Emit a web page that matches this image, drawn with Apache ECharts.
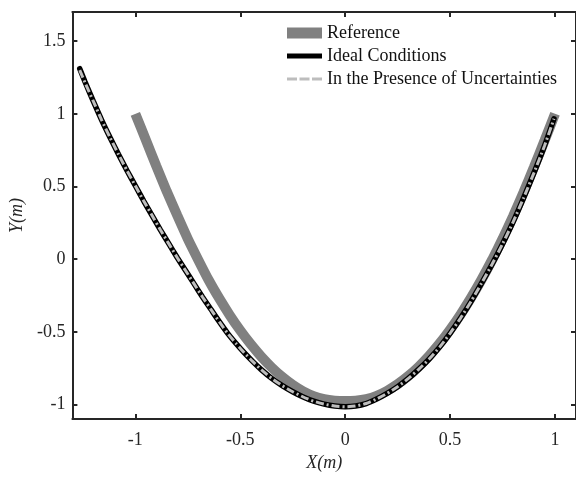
<!DOCTYPE html>
<html>
<head>
<meta charset="utf-8">
<script src="https://cdn.jsdelivr.net/npm/echarts@6/dist/echarts.min.js"></script>
<style>
html,body{margin:0;padding:0;background:#fff;}
#chart{width:576px;height:477px;}
</style>
</head>
<body>
<div id="chart"></div>
<script>
// ---- data ----
const seriesNames = ['Reference', 'Ideal Conditions', 'In the Presence of Uncertainties'];

const refX = [-1.0, -0.95, -0.9, -0.85, -0.8, -0.75, -0.7, -0.65, -0.6, -0.55, -0.5, -0.45, -0.4, -0.35, -0.3, -0.25, -0.2, -0.15, -0.1, -0.05, 0, 0.05, 0.1, 0.15, 0.2, 0.25, 0.3, 0.35, 0.4, 0.45, 0.5, 0.55, 0.6, 0.65, 0.7, 0.75, 0.8, 0.85, 0.9, 0.95, 1.0];
const refY = [1.0, 0.82, 0.64, 0.465, 0.3, 0.14, -0.005, -0.145, -0.27, -0.385, -0.49, -0.585, -0.67, -0.745, -0.81, -0.865, -0.91, -0.943, -0.963, -0.973, -0.976, -0.973, -0.962, -0.94, -0.905, -0.86, -0.805, -0.74, -0.665, -0.58, -0.485, -0.38, -0.265, -0.14, -0.005, 0.14, 0.295, 0.46, 0.635, 0.815, 1.0];

const idealX = [-1.265, -1.24, -1.2, -1.16, -1.12, -1.08, -1.04, -1.0, -0.96, -0.92, -0.88, -0.84, -0.8, -0.76, -0.72, -0.68, -0.64, -0.6, -0.56, -0.52, -0.48, -0.44, -0.4, -0.35, -0.3, -0.25, -0.2, -0.15, -0.1, -0.05, 0, 0.05, 0.1, 0.15, 0.2, 0.25, 0.3, 0.35, 0.4, 0.45, 0.5, 0.55, 0.6, 0.65, 0.7, 0.75, 0.8, 0.85, 0.9, 0.95, 0.995];
const idealY = [1.31, 1.22, 1.085, 0.955, 0.835, 0.72, 0.61, 0.505, 0.4, 0.3, 0.2, 0.105, 0.01, -0.08, -0.17, -0.26, -0.345, -0.43, -0.51, -0.58, -0.645, -0.705, -0.76, -0.82, -0.87, -0.912, -0.948, -0.977, -0.997, -1.01, -1.015, -1.01, -0.993, -0.962, -0.923, -0.877, -0.822, -0.758, -0.687, -0.605, -0.51, -0.405, -0.29, -0.165, -0.035, 0.105, 0.255, 0.42, 0.595, 0.78, 0.965];

const uncX = [-1.265, -1.24, -1.2, -1.16, -1.12, -1.08, -1.04, -1.0, -0.96, -0.92, -0.88, -0.84, -0.8, -0.76, -0.72, -0.68, -0.64, -0.6, -0.56, -0.52, -0.48, -0.44, -0.4, -0.35, -0.3, -0.25, -0.2, -0.15, -0.1, -0.05, 0, 0.05, 0.1, 0.15, 0.2, 0.25, 0.3, 0.35, 0.4, 0.45, 0.5, 0.55, 0.6, 0.65, 0.7, 0.75, 0.8, 0.85, 0.9, 0.95, 0.995];
const uncY = [1.3, 1.215, 1.085, 0.955, 0.835, 0.72, 0.61, 0.505, 0.4, 0.3, 0.2, 0.105, 0.01, -0.08, -0.17, -0.26, -0.345, -0.43, -0.51, -0.58, -0.645, -0.705, -0.76, -0.82, -0.87, -0.912, -0.948, -0.977, -0.997, -1.01, -1.015, -1.01, -0.993, -0.962, -0.923, -0.877, -0.822, -0.758, -0.687, -0.605, -0.51, -0.405, -0.29, -0.165, -0.035, 0.105, 0.255, 0.42, 0.595, 0.78, 0.965];

const xTicks = [-1, -0.5, 0, 0.5, 1];
const yTicks = [-1, -0.5, 0, 0.5, 1, 1.5];

// ---- build ----
const zip = (xs, ys) => xs.map((x, i) => [x, ys[i]]);
const FONT = '"Liberation Serif", "DejaVu Serif", serif';
const AX = '#262626';

function axisCommon(ticks) {
  return {
    type: 'value',
    axisLine: { show: true, onZero: false, lineStyle: { color: AX, width: 2 } },
    axisTick: { show: true, inside: true, length: 5, customValues: ticks, lineStyle: { color: AX, width: 2 } },
    splitLine: { show: false },
  };
}

const chart = echarts.init(document.getElementById('chart'), null, { renderer: 'canvas' });

const option = {
  animation: false,
  backgroundColor: '#fff',
  grid: { left: 69, right: -2, top: 12, bottom: 52, containLabel: false },
  xAxis: [
    Object.assign(axisCommon(xTicks), {
      min: -1.3, max: 1.1, position: 'bottom',
      axisLabel: { show: true, customValues: xTicks, margin: 12, color: AX, fontFamily: FONT, fontSize: 18 },
      name: 'X(m)', nameLocation: 'middle', nameGap: 34,
      nameTextStyle: { fontFamily: FONT, fontSize: 18, fontStyle: 'italic', color: AX }
    }),
    Object.assign(axisCommon(xTicks), {
      min: -1.3, max: 1.1, position: 'top',
      axisLabel: { show: false }
    })
  ],
  yAxis: [
    Object.assign(axisCommon(yTicks), {
      min: -1.1, max: 1.7, position: 'left',
      axisLabel: { show: true, customValues: yTicks, margin: 7, color: AX, fontFamily: FONT, fontSize: 18 },
      name: 'Y(m)', nameLocation: 'middle', nameGap: 40, nameRotate: 90,
      nameTextStyle: { fontFamily: FONT, fontSize: 18, fontStyle: 'italic', color: AX }
    }),
    Object.assign(axisCommon(yTicks), {
      min: -1.1, max: 1.7, position: 'right',
      axisLabel: { show: false }
    })
  ],
  legend: [
    { data: [{ name: seriesNames[0], icon: 'rect', itemStyle: { color: '#808080' } }],
      left: 287, top: 24, padding: 0, itemWidth: 35, itemHeight: 11, selectedMode: false,
      textStyle: { fontFamily: FONT, fontSize: 18, color: '#111' } },
    { data: [{ name: seriesNames[1], icon: 'rect', itemStyle: { color: '#000' } }],
      left: 287, top: 47, padding: 0, itemWidth: 35, itemHeight: 5, selectedMode: false,
      textStyle: { fontFamily: FONT, fontSize: 18, color: '#111' } },
    { data: [{ name: seriesNames[2], icon: 'path://M0,0h10v3h-10z M12.5,0h10v3h-10z M25,0h10v3h-10z', itemStyle: { color: '#bdbdbd' } }],
      left: 287, top: 70, padding: 0, itemWidth: 35, itemHeight: 3, selectedMode: false,
      textStyle: { fontFamily: FONT, fontSize: 18, color: '#111' } }
  ],
  series: [
    { name: seriesNames[0], type: 'line', xAxisIndex: 0, yAxisIndex: 0,
      data: zip(refX, refY), showSymbol: false, smooth: 0.2, silent: true,
      lineStyle: { color: '#808080', width: 10, cap: 'butt' }, itemStyle: { color: '#808080' } },
    { name: seriesNames[1], type: 'line', xAxisIndex: 0, yAxisIndex: 0,
      data: zip(idealX, idealY), showSymbol: false, smooth: 0.2, silent: true,
      lineStyle: { color: '#000', width: 5.5, cap: 'round' }, itemStyle: { color: '#000' } },
    { name: seriesNames[2], type: 'line', xAxisIndex: 0, yAxisIndex: 0,
      data: zip(uncX, uncY), showSymbol: false, smooth: 0.2, silent: true,
      lineStyle: { color: '#bdbdbd', width: 3, type: [8, 3, 2, 3] }, itemStyle: { color: '#bdbdbd' } }
  ]
};
chart.setOption(option);
</script>
</body>
</html>
